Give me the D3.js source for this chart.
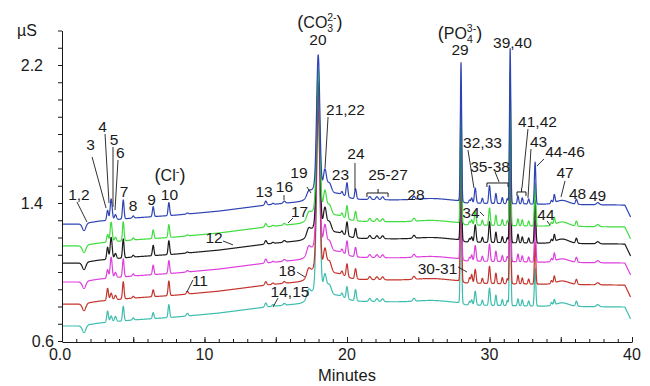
<!DOCTYPE html>
<meta charset="utf-8">
<script src="https://d3js.org/d3.v7.min.js"></script>
<style>
  body { margin: 0; background: #fff; }
  text { font-family: "Liberation Sans", Arial, sans-serif; fill: #1a1a1a; }
  .axis path, .axis line { stroke: #1a1a1a; }
</style>
<div id="chart"></div>
<script>
// peak table: retention time (min) and width (sigma, min)
var peakTime  = [1.55, 3.2, 3.45, 3.75, 4.3, 5.0, 6.4, 7.5, 8.8, 14.3, 14.8, 15.6, 17.3, 17.9, 17.98, 18.45, 18.75, 19.2, 19.65, 20.0, 20.6, 21.6, 22.1, 22.5, 24.7, 26.0, 28.0, 28.6, 28.75, 29.0, 29.5, 30.0, 30.45, 30.9, 31.25, 31.45, 32.0, 32.3, 32.75, 33.2, 34.35, 34.55, 35.1, 36.1, 37.6];
var peakWidth = [0.12, 0.06, 0.07, 0.07, 0.055, 0.06, 0.055, 0.055, 0.07, 0.07, 0.07, 0.08, 0.12, 0.45, 0.11, 0.1, 0.15, 0.6, 0.06, 0.06, 0.06, 0.08, 0.08, 0.08, 0.08, 1.1, 0.045, 0.05, 0.05, 0.06, 0.05, 0.055, 0.05, 0.05, 0.05, 0.045, 0.05, 0.05, 0.05, 0.05, 0.05, 0.05, 0.45, 0.06, 0.1];

// peak heights (µS) per run
var blueHeight    = [-0.041, 0.058, 0.122, 0.029, 0.110, 0.012, 0.058, 0.075, 0.006, 0.023, 0.006, 0.012, 0.025, 0.087, 0.754, 0.116, 0.058, 0.035, 0.017, 0.081, 0.058, 0.017, 0.017, 0.017, 0.017, 0.012, 0.80, 0.017, 0.029, 0.087, 0.029, 0.104, 0.058, 0.035, 0.029, 0.899, 0.046, 0.035, 0.029, 0.243, 0.017, 0.046, 0.023, 0.029, 0.012];
var greenHeight   = [-0.041, 0.045, 0.115, 0.025, 0.110, 0.012, 0.050, 0.075, 0.006, 0.020, 0.006, 0.010, 0.030, 0.087, 0.80, 0.12, 0.06, 0.035, 0.020, 0.075, 0.055, 0.017, 0.017, 0.017, 0.017, 0.012, 0.80, 0.020, 0.030, 0.080, 0.029, 0.100, 0.060, 0.035, 0.029, 0.899, 0.040, 0.035, 0.029, 0.25, 0.017, 0.040, 0.025, 0.029, 0.012];
var blackHeight   = [-0.041, 0.070, 0.125, 0.030, 0.110, 0.010, 0.060, 0.080, 0.006, 0.020, 0.006, 0.010, 0.035, 0.087, 0.83, 0.12, 0.06, 0.035, 0.015, 0.080, 0.055, 0.017, 0.017, 0.017, 0.017, 0.012, 0.80, 0.020, 0.030, 0.100, 0.029, 0.120, 0.060, 0.035, 0.029, 0.899, 0.050, 0.035, 0.029, 0.25, 0.017, 0.040, 0.025, 0.029, 0.012];
var magentaHeight = [-0.041, 0.050, 0.120, 0.030, 0.105, 0.012, 0.055, 0.075, 0.008, 0.023, 0.006, 0.010, 0.040, 0.087, 0.86, 0.13, 0.06, 0.035, 0.020, 0.080, 0.055, 0.017, 0.017, 0.017, 0.017, 0.012, 0.80, 0.020, 0.035, 0.090, 0.029, 0.100, 0.060, 0.035, 0.029, 0.899, 0.045, 0.035, 0.029, 0.24, 0.017, 0.045, 0.020, 0.029, 0.012];
var redHeight     = [-0.041, 0.070, 0.040, 0.025, 0.100, 0.010, 0.040, 0.085, 0.015, 0.020, 0.008, 0.010, 0.040, 0.087, 0.90, 0.12, 0.07, 0.035, 0.020, 0.075, 0.060, 0.017, 0.017, 0.017, 0.017, 0.012, 0.80, 0.030, 0.050, 0.080, 0.029, 0.100, 0.060, 0.035, 0.029, 0.899, 0.050, 0.035, 0.029, 0.24, 0.017, 0.040, 0.020, 0.029, 0.012];
var cyanHeight    = [-0.041, 0.065, 0.035, 0.030, 0.085, 0.012, 0.035, 0.075, 0.015, 0.023, 0.010, 0.010, 0.045, 0.087, 1.15, 0.10, 0.06, 0.035, 0.020, 0.070, 0.065, 0.017, 0.017, 0.017, 0.017, 0.012, 0.80, 0.020, 0.030, 0.080, 0.029, 0.100, 0.060, 0.035, 0.029, 0.899, 0.040, 0.035, 0.029, 0.22, 0.017, 0.030, 0.020, 0.029, 0.012];

// baseline drift (µS, relative to run start) and run start levels
var baseKnotTime  = [0, 1.3, 2.6, 5, 8, 11, 14.3, 16.5, 19.5, 24, 28, 28.3, 33, 39.5, 39.9];
var baseKnotShift = [0, 0, 0.017, 0.035, 0.052, 0.075, 0.110, 0.128, 0.145, 0.139, 0.133, 0.122, 0.116, 0.110, 0.041];
var runNames  = ["cyan", "red", "magenta", "black", "green", "blue"];
var runStart  = [0.687, 0.814, 0.942, 1.052, 1.151, 1.278];
var runHeights = [cyanHeight, redHeight, magentaHeight, blackHeight, greenHeight, blueHeight];
var runColors = ["#3dbdae", "#c4342c", "#de3fdc", "#1c1c1c", "#3fdc3f", "#2f44b3"];

var xTicksLabelled = [0, 10, 20, 30, 40];
var yTicksLabelled = [0.6, 1.4, 2.2];

var width = 650, height = 386;
var svg = d3.select("#chart").append("svg")
    .attr("width", width)
    .attr("height", height);

var x = d3.scaleLinear().domain([0, 40]).range([62, 632]);
var y = d3.scaleLinear().domain([0.6, 2.4]).range([341, 30.5]);
var drift = d3.scaleLinear().domain(baseKnotTime).range(baseKnotShift);

// sample times
var times = d3.range(0, 39.9 + 1e-9, 0.01);

function signal(t, start, heights) {
    var v = start + drift(t);
    for (var i = 0; i < peakTime.length; i++) {
        var z = (t - peakTime[i]) / peakWidth[i];
        if (Math.abs(z) < 6) v += heights[i] * Math.exp(-0.5 * z * z);
    }
    return v;
}

var line = d3.line()
    .x(function(d) { return x(d[0]); })
    .y(function(d) { return y(d[1]); });

runNames.forEach(function(name, k) {
    var pts = times.map(function(t) { return [t, signal(t, runStart[k], runHeights[k])]; });
    svg.append("path")
        .datum(pts)
        .attr("class", "run " + name)
        .attr("fill", "none")
        .attr("stroke", runColors[k])
        .attr("stroke-width", 1.2)
        .attr("stroke-linejoin", "round")
        .attr("d", line);
});

// x axis
svg.append("g")
    .attr("class", "axis")
    .attr("transform", "translate(0,342)")
    .call(d3.axisBottom(x).tickValues(d3.range(0, 41, 1)).tickSize(-3).tickFormat(""))
    .call(function(g) { g.select(".domain").remove(); });
svg.append("g")
    .attr("class", "axis")
    .attr("transform", "translate(0,342)")
    .call(d3.axisBottom(x).tickValues(d3.range(0, 41, 5)).tickSizeInner(-5).tickSizeOuter(0).tickFormat(""));
svg.append("g")
    .selectAll("text")
    .data(xTicksLabelled)
    .enter().append("text")
    .attr("x", function(d) { return x(d) - (d === 0 ? 2 : 0); })
    .attr("y", 360)
    .attr("text-anchor", "middle")
    .attr("font-size", 16)
    .text(function(d) { return d === 0 ? "0.0" : d; });

// y axis
svg.append("g")
    .attr("class", "axis")
    .attr("transform", "translate(62,0)")
    .call(d3.axisLeft(y).tickValues(d3.range(6, 25, 1).map(function(d) { return d / 10; })).tickSizeInner(4).tickSizeOuter(0).tickFormat(""));
svg.append("g")
    .selectAll("text")
    .data(yTicksLabelled)
    .enter().append("text")
    .attr("x", function(d) { return d === 0.6 ? 54 : 43; })
    .attr("y", function(d) { return y(d); })
    .attr("dy", "0.35em")
    .attr("text-anchor", "end")
    .attr("font-size", 16)
    .text(function(d) { return d.toFixed(1); });

svg.append("text").attr("x", 17).attr("y", 36).attr("font-size", 16).text("µS");
svg.append("text").attr("x", 347).attr("y", 381).attr("text-anchor", "middle").attr("font-size", 16.5).text("Minutes");

// peak labels [text, minutes, µS]
var peakLabels = [
    ["1,2", 1.19, 1.417], ["3", 2.0, 1.707], ["4", 2.84, 1.812], ["5", 3.65, 1.736], ["6", 4.1, 1.661],
    ["7", 4.35, 1.435], ["8", 4.98, 1.354], ["9", 6.28, 1.388], ["10", 7.54, 1.417], ["11", 9.68, 0.919],
    ["12", 10.67, 1.168], ["13", 14.18, 1.435], ["16", 15.61, 1.464], ["19", 16.63, 1.545], ["17", 16.67, 1.319],
    ["18", 15.79, 0.977], ["14,15", 16.0, 0.855], ["20", 17.96, 2.316], ["21,22", 19.89, 1.910], ["23", 19.54, 1.533],
    ["24", 20.63, 1.655], ["25-27", 22.88, 1.533], ["28", 24.84, 1.417], ["29", 27.93, 2.258], ["39,40", 31.61, 2.299],
    ["32,33", 29.51, 1.719], ["35-38", 30.04, 1.580], ["41,42", 33.37, 1.841], ["43", 33.44, 1.725], ["44-46", 35.30, 1.667],
    ["47", 35.30, 1.545], ["48", 36.18, 1.423], ["49", 37.58, 1.412], ["34", 28.70, 1.313], ["44", 33.96, 1.301],
    ["30-31", 26.35, 0.988]
];
// leader lines [t1, v1, t2, v2]
var leaders = [
    [1.05, 1.406, 1.75, 1.290], [2.11, 1.667, 3.09, 1.371], [3.02, 1.800, 3.30, 1.400], [3.58, 1.725, 3.58, 1.377],
    [3.93, 1.649, 3.72, 1.359], [9.19, 0.954, 8.77, 0.884], [11.30, 1.180, 12.0, 1.157], [15.58, 1.446, 15.58, 1.417],
    [17.19, 1.493, 17.47, 1.458], [16.21, 1.313, 15.86, 1.284], [16.49, 1.0, 17.05, 0.971], [15.16, 0.849, 14.81, 0.797],
    [18.67, 1.899, 18.46, 1.603], [20.56, 1.632, 20.56, 1.475], [28.49, 1.707, 28.91, 1.487], [30.39, 1.580, 30.67, 1.522],
    [32.70, 1.829, 32.28, 1.487], [32.91, 1.713, 32.70, 1.429], [33.82, 1.655, 33.33, 1.614], [35.30, 1.528, 35.02, 1.435],
    [29.33, 1.348, 29.61, 1.325], [34.04, 1.296, 34.25, 1.272], [27.79, 1.029, 28.42, 1.0]
];
// brackets [t1, t2, v, tip]
var brackets = [
    [21.40, 22.88, 1.458, 22.18], [29.82, 31.30, 1.516, null], [31.93, 32.56, 1.464, 32.25]
];

var ann = svg.append("g");
ann.selectAll("line.leader")
    .data(leaders)
    .enter().append("line")
    .attr("class", "leader")
    .attr("x1", function(d) { return x(d[0]); })
    .attr("y1", function(d) { return y(d[1]); })
    .attr("x2", function(d) { return x(d[2]); })
    .attr("y2", function(d) { return y(d[3]); })
    .attr("stroke", "#1a1a1a")
    .attr("stroke-width", 0.9);

ann.selectAll("path.bracket")
    .data(brackets)
    .enter().append("path")
    .attr("class", "bracket")
    .attr("fill", "none")
    .attr("stroke", "#1a1a1a")
    .attr("stroke-width", 1)
    .attr("d", function(d) {
        var x1 = x(d[0]), x2 = x(d[1]), yy = y(d[2]);
        var p = "M" + x1 + "," + (yy + 4) + "V" + yy + "H" + x2 + "V" + (yy + 4);
        if (d[3] !== null) p += "M" + x(d[3]) + "," + yy + "v-4";
        return p;
    });

ann.selectAll("text.peak")
    .data(peakLabels)
    .enter().append("text")
    .attr("class", "peak")
    .attr("x", function(d) { return x(d[1]); })
    .attr("y", function(d) { return y(d[2]); })
    .attr("text-anchor", "middle")
    .attr("font-size", 15.5)
    .text(function(d) { return d[0]; });

// ion names
function ion(t, v, main, sub, sup) {
    var tx = ann.append("text")
        .attr("x", x(t))
        .attr("y", y(v))
        .attr("text-anchor", "middle")
        .attr("font-size", 16);
    tx.append("tspan").attr("font-size", 18).text("(");
    tx.append("tspan").text(main);
    if (sub) {
        tx.append("tspan").attr("font-size", 10.5).attr("dy", 4).text(sub);
        tx.append("tspan").attr("font-size", 10.5).attr("dx", -6).attr("dy", -11).text(sup);
        tx.append("tspan").attr("font-size", 18).attr("dy", 7).text(")");
    } else {
        tx.append("tspan").attr("font-size", 11).attr("dy", -6).text(sup);
        tx.append("tspan").attr("font-size", 18).attr("dy", 6).text(")");
    }
}
ion(7.58, 1.528, "Cl", null, "-");
ion(18.1, 2.414, "CO", "3", "2-");
ion(27.93, 2.351, "PO", "4", "3-");
</script>
